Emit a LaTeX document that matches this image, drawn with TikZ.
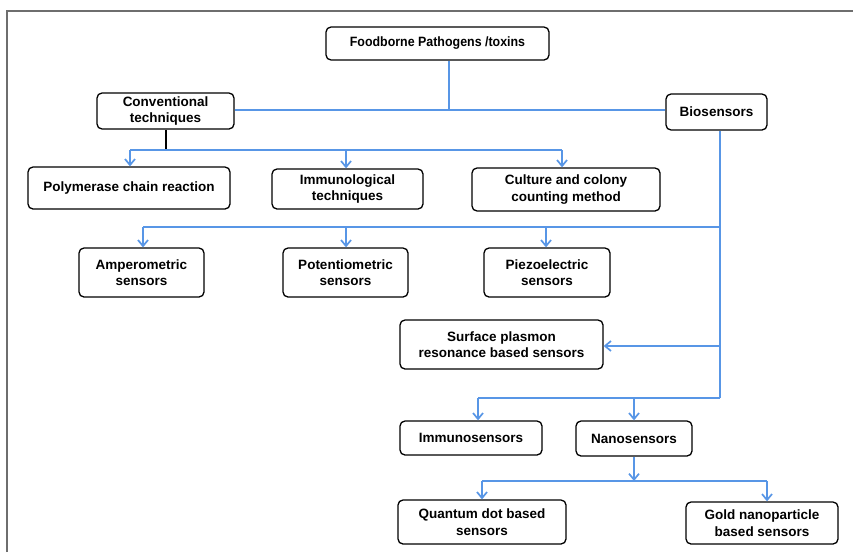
\documentclass[tikz,border=0pt]{standalone}
\usepackage{fontspec}
\setmainfont{Liberation Sans}
\newfontfamily\condfont[FakeStretch=0.92]{Liberation Sans}
\usetikzlibrary{arrows.meta}
\definecolor{lnblue}{RGB}{88,150,230}
\definecolor{frm}{RGB}{110,110,110}
\tikzset{
  box/.style={draw=black, line width=1.3pt, rounded corners=5pt, fill=white, inner sep=0pt, align=center, font=\bfseries\fontsize{13.5}{16.5}\selectfont},
  conn/.style={draw=lnblue, line width=2pt},
  arr/.style={conn, -{Straight Barb[length=6pt,width=10pt,line width=1.7pt]}},
}
\begin{document}
\begin{tikzpicture}[x=1pt,y=-1pt]
\useasboundingbox (0,0) rectangle (853,552);
\draw[frm, line width=1.5pt] (7,552) -- (7,11) -- (853,11);
% nodes
\node[box, minimum width=223pt, minimum height=33pt, font=\condfont\bfseries\fontsize{13.5}{16.5}\selectfont] (food) at (437.5,43.5) {Foodborne Pathogens /toxins};
\node[box, minimum width=137pt, minimum height=36pt] (conv) at (165.5,111) {Conventional\\techniques};
\node[box, minimum width=101pt, minimum height=36pt] (bio) at (716.5,112) {Biosensors};
\node[box, minimum width=202pt, minimum height=42pt] (pcr) at (129,188) {Polymerase chain reaction};
\node[box, minimum width=151pt, minimum height=40pt] (imm) at (347.5,189) {Immunological\\techniques};
\node[box, minimum width=188pt, minimum height=43pt] (cul) at (566,189.5) {Culture and colony\\counting method};
\node[box, minimum width=125pt, minimum height=49pt] (amp) at (141.5,272.5) {Amperometric\\sensors};
\node[box, minimum width=125pt, minimum height=49pt] (pot) at (345.5,272.5) {Potentiometric\\sensors};
\node[box, minimum width=126pt, minimum height=49pt] (pie) at (547,272.5) {Piezoelectric\\sensors};
\node[box, minimum width=203pt, minimum height=49pt] (spr) at (501.5,344.5) {Surface plasmon\\resonance based sensors};
\node[box, minimum width=142pt, minimum height=34pt] (ims) at (471,438) {Immunosensors};
\node[box, minimum width=116pt, minimum height=35pt] (nano) at (634,438.5) {Nanosensors};
\node[box, minimum width=168pt, minimum height=44pt] (qd) at (482,522) {Quantum dot based\\sensors};
\node[box, minimum width=152pt, minimum height=42pt] (gold) at (762,523) {Gold nanoparticle\\based sensors};
% coordinates
\coordinate (j1) at (449,110);
\coordinate (c1) at (166,150);
\coordinate (bx) at (720,130);
\coordinate (b2) at (720,227);
\coordinate (b3) at (720,346);
\coordinate (b4) at (720,398);
\coordinate (n1) at (634,481);
% top connectors
\draw[conn] (food.south -| j1) -- (j1);
\draw[conn] (conv.east |- j1) -- (bio.west |- j1);
\draw[black, line width=1.6pt] (conv.south -| c1) -- (c1);
\draw[conn] (130,150) -- (562,150);
\draw[arr] (130,150) -- (pcr.north -| 130,0);
\draw[arr] (346,150) -- (imm.north -| 346,0);
\draw[arr] (562,150) -- (cul.north -| 562,0);
% biosensor trunk
\draw[conn] (bio.south -| bx) -- (b4);
\draw[conn] (b2) -- (143,227);
\draw[arr] (143,227) -- (amp.north -| 143,0);
\draw[arr] (346,227) -- (pot.north -| 346,0);
\draw[arr] (546,227) -- (pie.north -| 546,0);
\draw[arr] (b3) -- (spr.east |- b3);
\draw[conn] (b4) -- (478,398);
\draw[arr] (478,398) -- (ims.north -| 478,0);
\draw[arr] (634,398) -- (nano.north);
% nanosensors
\draw[arr] (nano.south) -- (n1);
\draw[conn] (482,481) -- (767,481);
\draw[arr] (482,481) -- (qd.north -| 482,0);
\draw[arr] (767,481) -- (gold.north -| 767,0);
\end{tikzpicture}
\end{document}
